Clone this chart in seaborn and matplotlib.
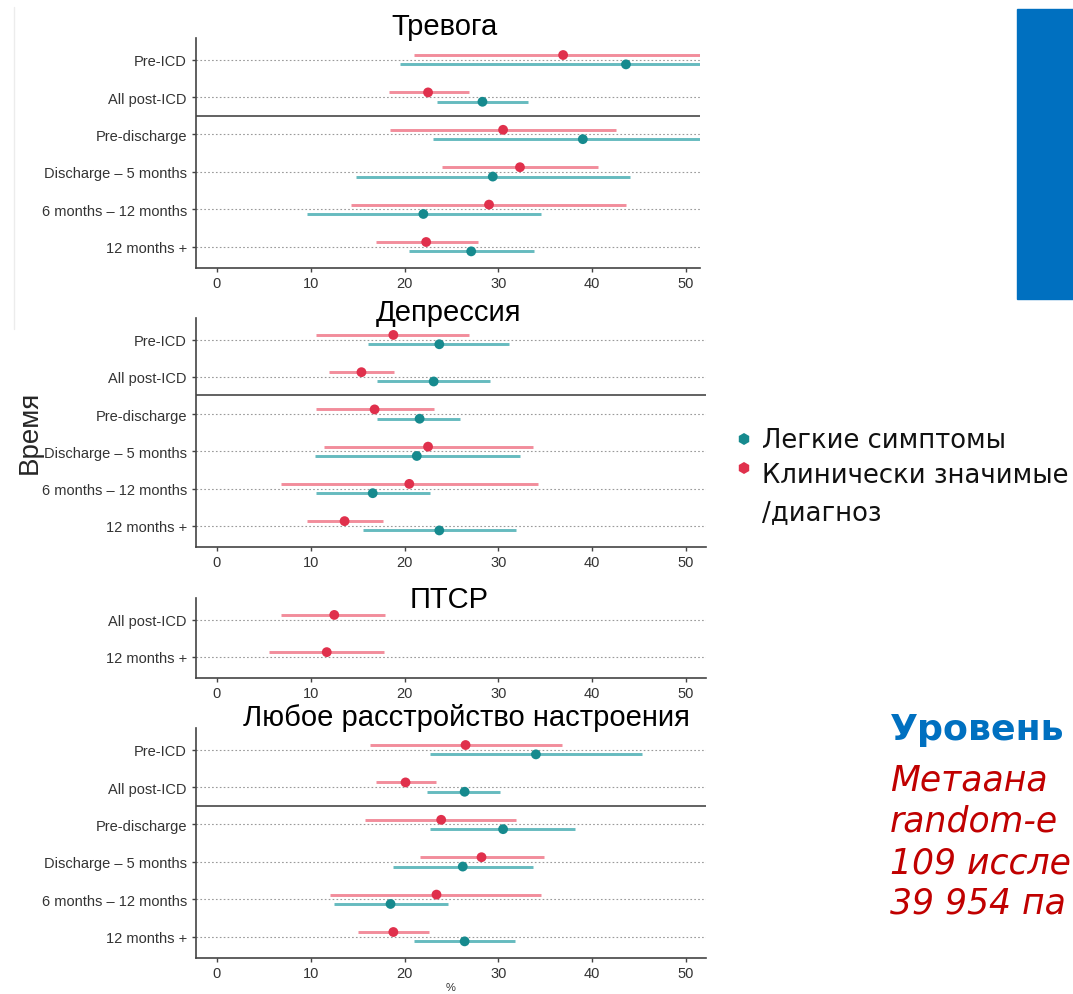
import pandas as pd
import seaborn as sns
import matplotlib.pyplot as plt
from matplotlib.patches import Rectangle
from matplotlib.lines import Line2D

# Данные (оценки и 95% ДИ, %)
labels6 = ["Pre-ICD", "All post-ICD", "Pre-discharge", "Discharge \u2013 5 months",
           "6 months \u2013 12 months", "12 months +"]
labels_ptsd = ["All post-ICD", "12 months +"]

# Тревога
anx_red = [36.9, 22.5, 30.5, 32.3, 29.0, 22.3]
anx_red_lo = [21.0, 18.3, 18.4, 24.0, 14.3, 17.0]
anx_red_hi = [55.0, 26.9, 42.5, 40.6, 43.6, 27.8]
anx_teal = [43.6, 28.3, 39.0, 29.4, 22.0, 27.1]
anx_teal_lo = [19.5, 23.5, 23.0, 14.8, 9.6, 20.5]
anx_teal_hi = [58.0, 33.2, 56.0, 44.0, 34.5, 33.8]

# Депрессия
dep_red = [18.8, 15.4, 16.8, 22.5, 20.5, 13.6]
dep_red_lo = [10.6, 11.9, 10.6, 11.4, 6.8, 9.6]
dep_red_hi = [26.9, 18.9, 23.1, 33.7, 34.2, 17.7]
dep_teal = [23.7, 23.1, 21.6, 21.3, 16.6, 23.7]
dep_teal_lo = [16.1, 17.1, 17.1, 10.4, 10.6, 15.6]
dep_teal_hi = [31.1, 29.1, 25.9, 32.3, 22.7, 31.9]

# ПТСР
ptsd_red = [12.5, 11.7]
ptsd_red_lo = [6.8, 5.5]
ptsd_red_hi = [17.9, 17.8]

# Любое расстройство настроения
mood_red = [26.5, 20.1, 23.9, 28.2, 23.4, 18.8]
mood_red_lo = [16.3, 16.9, 15.8, 21.6, 12.1, 15.0]
mood_red_hi = [36.8, 23.3, 31.9, 34.9, 34.5, 22.6]
mood_teal = [34.0, 26.4, 30.5, 26.2, 18.5, 26.4]
mood_teal_lo = [22.7, 22.4, 22.7, 18.8, 12.5, 21.0]
mood_teal_hi = [45.3, 30.2, 38.2, 33.7, 24.6, 31.8]

x_ticks = [0, 10, 20, 30, 40, 50]

# текст на слайде (виден только частично, обрезан краем слайда)
side_title = "Уровень"
side_lines = ["Метаана", "random-e", "109 иссле", "39 954 па"]

RED, RED_L = "#E0304C", "#F28D9B"
TEAL, TEAL_L = "#168A8E", "#66BBBF"

sns.set_theme(style="white")
plt.rcParams['font.family'] = ['Liberation Sans', 'DejaVu Sans']

W, H = 1073, 995
fig = plt.figure(figsize=(W / 100, H / 100), dpi=100)
renderer = fig.canvas.get_renderer()


def build(labels, red, rlo, rhi, teal=None, tlo=None, thi=None):
    rows = []
    for i, lab in enumerate(labels):
        rows.append(dict(time=lab, row=i, group="Клинически значимые", est=red[i],
                         lo=rlo[i], hi=rhi[i], off=-0.125))
        if teal is not None:
            rows.append(dict(time=lab, row=i, group="Легкие симптомы", est=teal[i],
                             lo=tlo[i], hi=thi[i], off=0.125))
    df = pd.DataFrame(rows)
    df["y"] = df["row"] + df["off"]
    return df


# (заголовок, данные, подписи, (верх, низ, правый край, центр заголовка x, y), разделитель)
panels = [
    ("Тревога", build(labels6, anx_red, anx_red_lo, anx_red_hi, anx_teal, anx_teal_lo, anx_teal_hi),
     labels6, (39, 269, 700, 445, 27), True),
    ("Депрессия", build(labels6, dep_red, dep_red_lo, dep_red_hi, dep_teal, dep_teal_lo, dep_teal_hi),
     labels6, (319, 548, 706, 448, 313), True),
    ("ПТСР", build(labels_ptsd, ptsd_red, ptsd_red_lo, ptsd_red_hi),
     labels_ptsd, (599, 679, 706, 449, 600), False),
    ("Любое расстройство настроения",
     build(labels6, mood_red, mood_red_lo, mood_red_hi, mood_teal, mood_teal_lo, mood_teal_hi),
     labels6, (729, 959, 706, 466, 718), True),
]

x0_px, px_per_unit, left_px = 217, 9.38, 196
axes = []
for title, df, labels, (top, bot, right, tx, ty), sep in panels:
    ax = fig.add_axes([left_px / W, 1 - bot / H, (right - left_px) / W, (bot - top) / H])
    n = len(labels)
    for i in range(n):
        ax.axhline(i, color="#9a9a9a", lw=0.8, ls=(0, (1.5, 2)), zorder=0)
    if sep:
        ax.axhline(1.5, color="#555555", lw=1.3, zorder=1)
    for grp, lc in [("Клинически значимые", RED_L), ("Легкие симптомы", TEAL_L)]:
        d = df[df["group"] == grp]
        ax.hlines(d["y"], d["lo"], d["hi"], color=lc, lw=2.1, zorder=2)
    sns.scatterplot(data=df, x="est", y="y", hue="group",
                    palette={"Клинически значимые": RED, "Легкие симптомы": TEAL},
                    s=50, edgecolor="none", legend=False, ax=ax, zorder=3)
    ax.set_xlim((left_px - x0_px) / px_per_unit, (right - x0_px) / px_per_unit)
    ax.set_ylim(n - 1 + 0.57, -0.58)
    ax.set_yticks(range(n))
    ax.set_yticklabels(labels)
    ax.set_xticks(x_ticks)
    ax.set_xlabel("")
    ax.set_ylabel("")
    for s in ["top", "right"]:
        ax.spines[s].set_visible(False)
    for s in ["left", "bottom"]:
        ax.spines[s].set_color("#444444")
        ax.spines[s].set_linewidth(1.2)
    ax.tick_params(axis="y", labelsize=10.5)
    ax.tick_params(axis="x", labelsize=10.5, pad=3)
    ax.tick_params(axis="both", which="both", length=3, width=1, color="#444444",
                   labelcolor="#333333", left=True, bottom=True)
    fig.text(tx / W, 1 - ty / H, title, fontsize=21, ha="center", va="center", color="black")
    axes.append(ax)

axes[-1].set_xlabel("%", fontsize=8, labelpad=1, color="#333333")

fig.text(30 / W, 1 - 432 / H, "Время", rotation=90, fontsize=20, ha="center", va="center")

# фон слайда: холст для легенды и декора в пикселях
deco = fig.add_axes([0, 0, 1, 1], facecolor="none")
deco.set_xlim(0, W)
deco.set_ylim(H, 0)
deco.axis("off")
deco.add_line(Line2D([14, 14], [8, 330], color="#ececec", lw=1))
deco.add_patch(Rectangle((1017, 10), 60, 290, color="#0070C0"))


def fit_size(text, target_px, base=20, **kw):
    t = fig.text(0, 0, text, fontsize=base, **kw)
    w = t.get_window_extent(renderer).width
    t.remove()
    return base * target_px / w


# легенда
leg_font = ["DejaVu Sans"]
leg_size = fit_size("Легкие симптомы", 243, family=leg_font)
deco.scatter([744], [440], s=75, color=TEAL, marker="h", edgecolor="none")
deco.scatter([744], [469], s=75, color=RED, marker="h", edgecolor="none")
fig.text(762 / W, 1 - 441 / H, "Легкие симптомы", fontsize=leg_size, va="center",
         ha="left", family=leg_font, color="#111111")
fig.text(762 / W, 1 - 476 / H, "Клинически значимые", fontsize=leg_size, va="center",
         ha="left", family=leg_font, color="#111111")
fig.text(762 / W, 1 - 513 / H, "/диагноз", fontsize=leg_size, va="center",
         ha="left", family=leg_font, color="#111111")

# текст справа внизу
side_font = ["DejaVu Sans"]
t_size = fit_size(side_title, 175, family=side_font, fontweight="bold")
fig.text(890 / W, 1 - 730 / H, side_title, fontsize=t_size, fontweight="bold",
         color="#0070C0", va="center", ha="left", family=side_font)
r_size = fit_size(side_lines[2], 181, family=side_font, fontstyle="italic")
for yy, t in zip([781, 822, 863, 904], side_lines):
    fig.text(890 / W, 1 - yy / H, t, fontsize=r_size, fontstyle="italic", color="#C00000",
             va="center", ha="left", family=side_font)

fig.savefig("out.png", dpi=100)
